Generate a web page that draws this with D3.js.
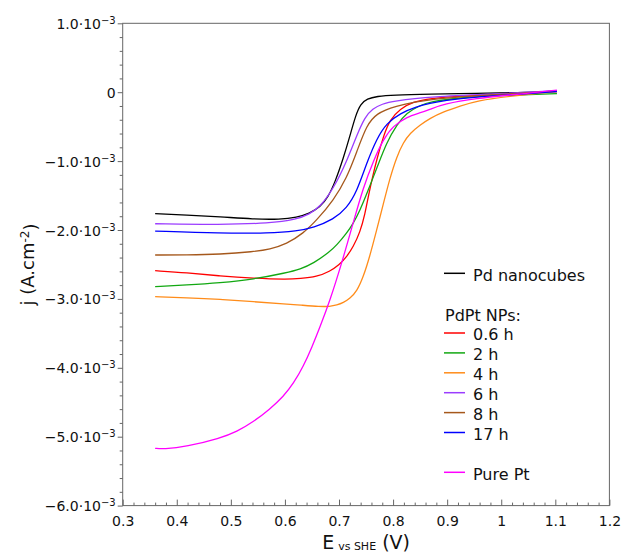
<!DOCTYPE html>
<html>
<head>
<meta charset="utf-8">
<script src="https://cdn.jsdelivr.net/npm/d3@7"></script>
<style>
  body { margin: 0; background: #fff; }
  svg { display: block; font-family: "DejaVu Sans", sans-serif; }
</style>
</head>
<body>
<div id="wrapper"></div>
<script>
const AXIS_COLOR = "#666";
const TEXT_COLOR = "#111";

// E (V vs SHE), j in 10^-3 A.cm^-2
const PD_NANOCUBES = [[0.360,-1.762],[0.418,-1.782],[0.480,-1.807],[0.542,-1.843],[0.591,-1.847],[0.622,-1.818],[0.645,-1.760],[0.665,-1.670],[0.680,-1.520],[0.693,-1.300],[0.708,-0.959],[0.720,-0.640],[0.731,-0.330],[0.740,-0.170],[0.752,-0.095],[0.770,-0.060],[0.800,-0.040],[0.868,-0.028],[0.955,-0.018],[1.030,-0.008],[1.103,0.017]];
const PDPT_06H = [[0.360,-2.591],[0.418,-2.620],[0.480,-2.668],[0.542,-2.701],[0.603,-2.716],[0.628,-2.705],[0.659,-2.680],[0.683,-2.600],[0.700,-2.510],[0.714,-2.390],[0.726,-2.250],[0.739,-2.030],[0.748,-1.770],[0.755,-1.480],[0.762,-1.230],[0.770,-0.970],[0.782,-0.640],[0.794,-0.400],[0.813,-0.240],[0.837,-0.140],[0.868,-0.090],[0.924,-0.055],[1.016,-0.030],[1.103,0.010]];
const PDPT_2H = [[0.360,-2.823],[0.418,-2.798],[0.480,-2.765],[0.542,-2.716],[0.603,-2.620],[0.628,-2.570],[0.653,-2.483],[0.683,-2.315],[0.696,-2.218],[0.714,-2.048],[0.726,-1.910],[0.739,-1.710],[0.751,-1.480],[0.761,-1.280],[0.770,-1.100],[0.788,-0.730],[0.807,-0.470],[0.825,-0.300],[0.850,-0.190],[0.868,-0.140],[0.924,-0.075],[1.016,-0.045],[1.103,-0.020]];
const PDPT_4H = [[0.360,-2.968],[0.418,-2.983],[0.480,-3.006],[0.542,-3.041],[0.603,-3.074],[0.628,-3.089],[0.665,-3.113],[0.683,-3.110],[0.696,-3.089],[0.708,-3.055],[0.720,-2.995],[0.733,-2.890],[0.745,-2.680],[0.757,-2.380],[0.769,-2.020],[0.782,-1.620],[0.794,-1.250],[0.807,-0.930],[0.819,-0.730],[0.831,-0.597],[0.850,-0.476],[0.868,-0.379],[0.893,-0.283],[0.924,-0.200],[0.955,-0.123],[1.016,-0.055],[1.103,0.010]];
const PDPT_6H = [[0.360,-1.909],[0.480,-1.923],[0.572,-1.903],[0.622,-1.845],[0.645,-1.770],[0.665,-1.665],[0.690,-1.395],[0.714,-1.009],[0.733,-0.621],[0.748,-0.360],[0.762,-0.240],[0.780,-0.170],[0.800,-0.130],[0.868,-0.065],[1.004,-0.020],[1.103,0.022]];
const PDPT_8H = [[0.360,-2.363],[0.418,-2.363],[0.480,-2.353],[0.542,-2.315],[0.572,-2.280],[0.603,-2.203],[0.634,-2.048],[0.659,-1.855],[0.690,-1.566],[0.714,-1.250],[0.733,-0.864],[0.751,-0.476],[0.770,-0.306],[0.800,-0.210],[0.868,-0.089],[1.004,-0.030],[1.103,0.017]];
const PDPT_17H = [[0.360,-2.016],[0.480,-2.048],[0.572,-2.048],[0.622,-2.015],[0.653,-1.965],[0.690,-1.845],[0.714,-1.685],[0.733,-1.444],[0.751,-1.030],[0.770,-0.669],[0.788,-0.451],[0.813,-0.306],[0.844,-0.210],[0.868,-0.161],[0.893,-0.120],[0.955,-0.065],[1.016,-0.040],[1.103,0.010]];
const PURE_PT = [[0.360,-5.168],[0.375,-5.180],[0.418,-5.145],[0.480,-5.023],[0.511,-4.927],[0.542,-4.782],[0.572,-4.600],[0.597,-4.419],[0.616,-4.225],[0.634,-3.980],[0.650,-3.700],[0.665,-3.403],[0.683,-3.030],[0.705,-2.483],[0.726,-1.900],[0.745,-1.380],[0.763,-1.009],[0.782,-0.680],[0.800,-0.490],[0.825,-0.360],[0.850,-0.300],[0.868,-0.250],[0.893,-0.171],[0.955,-0.089],[1.016,-0.041],[1.103,0.030]];

const SERIES_NAMES = ["Pd nanocubes", "0.6 h", "2 h", "4 h", "6 h", "8 h", "17 h", "Pure Pt"];
const SERIES_COLORS = ["#000000", "#ff0000", "#12a812", "#ff8c1a", "#9b3cff", "#a5581c", "#0000ff", "#ff00ff"];
const SERIES_DATA = [PD_NANOCUBES, PDPT_06H, PDPT_2H, PDPT_4H, PDPT_6H, PDPT_8H, PDPT_17H, PURE_PT];

const X_TICKS = [0.3, 0.4, 0.5, 0.6, 0.7, 0.8, 0.9, 1.0, 1.1, 1.2];
const Y_TICKS = [1, 0, -1, -2, -3, -4, -5, -6];

// legend rows: null = blank line, string = group title, number = series index
const LEGEND_ROWS = [0, null, "PdPt NPs:", 1, 2, 3, 4, 5, 6, null, 7];

function drawChart() {
  let dimensions = {
    width: 623,
    height: 553,
    margin: { top: 23.3, right: 13.6, bottom: 47.4, left: 122.7 }
  };
  dimensions.boundedWidth = dimensions.width - dimensions.margin.left - dimensions.margin.right;
  dimensions.boundedHeight = dimensions.height - dimensions.margin.top - dimensions.margin.bottom;

  const wrapper = d3.select("#wrapper")
    .append("svg")
    .attr("width", dimensions.width)
    .attr("height", dimensions.height);

  const bounds = wrapper.append("g")
    .attr("transform", `translate(${dimensions.margin.left},${dimensions.margin.top})`);

  const xScale = d3.scaleLinear()
    .domain([0.3, 1.2])
    .range([0, dimensions.boundedWidth]);

  const yScale = d3.scaleLinear()
    .domain([1, -6])
    .range([0, dimensions.boundedHeight]);

  // frame
  bounds.append("rect")
    .attr("width", dimensions.boundedWidth)
    .attr("height", dimensions.boundedHeight)
    .attr("fill", "none")
    .attr("stroke", AXIS_COLOR)
    .attr("stroke-width", 1);

  // minor ticks
  const xMinor = d3.range(0.3, 1.2001, 0.02).filter(v => Math.abs(v * 10 - Math.round(v * 10)) > 1e-6);
  const yMinor = d3.range(-6, 1.0001, 0.2).filter(v => Math.abs(v - Math.round(v)) > 1e-6);

  bounds.append("g")
    .attr("transform", `translate(0,${dimensions.boundedHeight})`)
    .call(d3.axisBottom(xScale).tickValues(xMinor).tickSizeInner(-3).tickSizeOuter(0).tickFormat(""))
    .call(g => g.select(".domain").remove())
    .call(g => g.selectAll("line").attr("stroke", AXIS_COLOR));

  bounds.append("g")
    .call(d3.axisLeft(yScale).tickValues(yMinor).tickSizeInner(3).tickSizeOuter(0).tickFormat(""))
    .call(g => g.select(".domain").remove())
    .call(g => g.selectAll("line").attr("stroke", AXIS_COLOR));

  // x axis
  const xAxis = bounds.append("g")
    .attr("transform", `translate(0,${dimensions.boundedHeight})`)
    .call(d3.axisBottom(xScale)
      .tickValues(X_TICKS)
      .tickSizeInner(-6)
      .tickSizeOuter(0)
      .tickPadding(10)
      .tickFormat(d => String(+d.toFixed(1))));
  xAxis.select(".domain").remove();
  xAxis.selectAll("line").attr("stroke", AXIS_COLOR);
  xAxis.selectAll("text")
    .attr("fill", TEXT_COLOR)
    .style("font-size", "14px")
    .style("font-family", "DejaVu Sans, sans-serif");

  // y axis
  const yAxis = bounds.append("g")
    .call(d3.axisLeft(yScale)
      .tickValues(Y_TICKS)
      .tickSizeInner(5)
      .tickSizeOuter(0)
      .tickFormat(""));
  yAxis.select(".domain").remove();
  yAxis.selectAll("line").attr("stroke", AXIS_COLOR);
  yAxis.selectAll(".tick").each(function(d) {
    const t = d3.select(this).append("text")
      .attr("x", -7)
      .attr("dy", "0.36em")
      .attr("fill", TEXT_COLOR)
      .attr("text-anchor", "end")
      .style("font-size", "14px")
      .style("font-family", "DejaVu Sans, sans-serif");
    if (d === 0) {
      t.text("0");
    } else {
      t.append("tspan").text((d < 0 ? "\u2212" : "") + Math.abs(d).toFixed(1) + "\u00b710");
      t.append("tspan").attr("dy", "-0.5em").style("font-size", "10px").text("\u22123");
    }
  });

  // curves
  const line = d3.line()
    .x(d => xScale(d[0]))
    .y(d => yScale(d[1]))
    .curve(d3.curveBasis);

  bounds.append("g")
    .selectAll("path")
    .data(SERIES_DATA)
    .enter().append("path")
    .attr("d", d => line(d))
    .attr("fill", "none")
    .attr("stroke", (d, i) => SERIES_COLORS[i])
    .attr("stroke-width", 1.3)
    .attr("stroke-linejoin", "round");

  // legend
  const legend = wrapper.append("g")
    .attr("transform", "translate(444,273.3)");
  const rowStep = 19.9;
  LEGEND_ROWS.forEach((row, k) => {
    if (row === null) return;
    const yPos = k * rowStep;
    if (typeof row === "string") {
      legend.append("text")
        .attr("x", 1)
        .attr("y", yPos + 2)
        .attr("dy", "0.36em")
        .attr("fill", TEXT_COLOR)
        .style("font-size", "16px")
        .text(row);
      return;
    }
    legend.append("line")
      .attr("x1", 0)
      .attr("x2", 21)
      .attr("y1", yPos)
      .attr("y2", yPos)
      .attr("stroke", SERIES_COLORS[row])
      .attr("stroke-width", 1.5);
    legend.append("text")
      .attr("x", 29)
      .attr("y", yPos + 1.5)
      .attr("dy", "0.36em")
      .attr("fill", TEXT_COLOR)
      .style("font-size", "16px")
      .text(SERIES_NAMES[row]);
  });

  // axis titles
  const xTitle = wrapper.append("text")
    .attr("x", dimensions.margin.left + dimensions.boundedWidth / 2)
    .attr("y", 549)
    .attr("text-anchor", "middle")
    .attr("fill", TEXT_COLOR)
    .style("font-size", "19px");
  xTitle.append("tspan").text("E");
  xTitle.append("tspan").attr("dx", 4).style("font-size", "11px").attr("dy", 1).text("vs SHE");
  xTitle.append("tspan").attr("dy", -1).text(" (V)");

  const yTitle = wrapper.append("text")
    .attr("transform", `translate(34,${dimensions.margin.top + dimensions.boundedHeight / 2}) rotate(-90)`)
    .attr("text-anchor", "middle")
    .attr("fill", TEXT_COLOR)
    .style("font-size", "18px");
  yTitle.append("tspan").text("j (A.cm");
  yTitle.append("tspan").attr("dy", "-0.45em").style("font-size", "12px").text("-2");
  yTitle.append("tspan").attr("dy", "0.45em").text(")");
}

drawChart();
</script>
</body>
</html>
